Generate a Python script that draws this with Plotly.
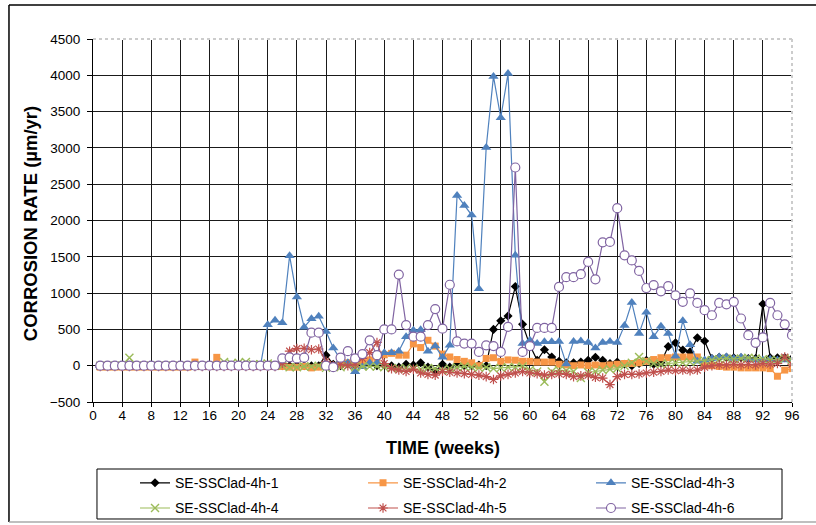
import plotly.graph_objects as go

weeks = list(range(1, 97))

names = ["SE-SSClad-4h-1", "SE-SSClad-4h-2", "SE-SSClad-4h-3",
         "SE-SSClad-4h-4", "SE-SSClad-4h-5", "SE-SSClad-4h-6"]

s1 = ([0] * 31 +
      [145, 20, 0, 30, 10, 20, 30, 0, 10] +
      [0, -20, 20, 10, 40, -20, -80, 20, -20, 20] +
      [0, 0, 10, 0, 500, 620, 685, 1090, 570, 280] +
      [75, 220, 120, 60, 40, 40, 50, 75, 115, 75] +
      [30, 50, 20, 0, 30, 75, 20, 40, 265, 315] +
      [215, 190, 385, 340, 100, 115, 115, 110, 110, 100] +
      [100, 850, 110, 110, 110, 100])

s2 = ([-20] * 10 +
      [-20, -20, -20, 50, -10, -10, 115, -10, -10, -10] +
      [-10, -10, -10, -10, -10, -10, -20, -20, -10, -30] +
      [-20, 0, -20, 20, 40, 30, 60, 80, 100, 150] +
      [170, 145, 145, 300, 250, 350, 270, 160, 120, 85] +
      [60, 40, 0, 100, 110, 60, 80, 75, 60, 60] +
      [50, 50, 50, 20, 10, 0, 10, 0, 10, 0] +
      [10, 20, 30, 30, 40, 60, 85, 110, 110, 120] +
      [120, 120, 120, 0, 0, -10, -20, -20, -30, -30] +
      [-30, -30, -40, -145, -60, -40])

s3 = ([0] * 23 +
      [565, 625, 590, 1515, 945, 530, 645] +
      [680, 470, 245, 80, 40, -85, -15, 40, 40, 180] +
      [180, 200, 400, 490, 495, 200, 270, 115, 280, 2345] +
      [2205, 2075, 1060, 3005, 3985, 3415, 4025, 1520, 305, 350] +
      [305, 330, 330, 335, 25, 335, 340, 320, 245, 320] +
      [335, 320, 555, 870, 445, 735, 400, 545, 445, 130] +
      [620, 290, 60, 80, 100, 120, 120, 100, 115, 90] +
      [80, 80, 90, 80, 80, 80])

s4 = ([0, 0, 0, 0, 110, 0, 0, 0, 0, 0] +
      [0, 0, 0, 0, 0, 0, 0, 50, 30, 40] +
      [50, 20, 20, 30, 10, 0, -20, -20, -10, -10] +
      [0, -30, 0, -20, 0, -20, -10, -10, -10, -20] +
      [-30, -40, -30, -40, -50, -30, -40, -60, -40, -20] +
      [-10, -20, -30, -20, -40, -30, -20, -20, -10, -60] +
      [-80, -220, -80, -60, -70, -80, -170, -90, -80, -60] +
      [-50, -40, 0, 40, 120, 60, 30, 20, 30, 40] +
      [40, 50, 60, 70, 80, 90, 100, 90, 100, 110] +
      [100, 90, 80, 80, 100, 80])

s5 = ([-10] * 20 +
      [-10, -10, -10, -10, -10, 30, 200, 235, 240, 220] +
      [230, 60, 0, 20, 0, 20, 100, 180, 320, 30] +
      [-40, -60, -80, -50, -100, -120, -130, -80, -90, -100] +
      [-110, -120, -130, -150, -190, -140, -120, -100, -80, -100] +
      [-110, -130, -120, -110, -120, -150, -140, -130, -160, -170] +
      [-260, -150, -120, -120, -115, -100, -90, -80, -60, -70] +
      [-60, -70, -60, -20, 0, 10, 10, 20, 10, 20] +
      [10, 30, 20, 30, 120, 20])

s6 = ([0] * 20 +
      [0, 0, 0, 0, 0, 100, 115, 100, 110, 455] +
      [455, 0, -20, 110, 200, 100, 160, 350, 145, 500] +
      [500, 1255, 560, 400, 400, 560, 780, 510, 1115, 335] +
      [305, 305, 190, 280, 270, 190, 535, 2730, 190, 270] +
      [520, 520, 520, 1085, 1220, 1220, 1260, 1430, 1190, 1700] +
      [1705, 2170, 1520, 1450, 1305, 1070, 1110, 1025, 1095, 970] +
      [880, 995, 865, 765, 695, 865, 845, 880, 650, 420] +
      [315, 390, 865, 695, 570, 420])

x_ticks = list(range(0, 97, 4))
y_ticks = list(range(-500, 4501, 500))

FONT = "Liberation Sans, Arial, sans-serif"

styles = [
    dict(color="#000000", line="#000000", symbol="diamond", size=7, lw=0, fill="#000000", legend="legend"),
    dict(color="#F79646", line="#F79646", symbol="square", size=7, lw=0, fill="#F79646", legend="legend2"),
    dict(color="#4F81BD", line="#4F81BD", symbol="triangle-up", size=9, lw=0, fill="#4F81BD", legend="legend3"),
    dict(color="#9BBB59", line="#9BBB59", symbol="x-thin", size=8, lw=1.4, fill="#9BBB59", legend="legend"),
    dict(color="#C0504D", line="#C0504D", symbol="asterisk", size=8, lw=1.2, fill="#C0504D", legend="legend2"),
    dict(color="#8064A2", line="#8064A2", symbol="circle", size=9, lw=1.2, fill="#FFFFFF", legend="legend3"),
]
series = [s1, s2, s3, s4, s5, s6]

fig = go.Figure()
for i, (name, ys, st) in enumerate(zip(names, series, styles)):
    fig.add_trace(go.Scatter(
        x=weeks, y=ys, name=name, mode="lines+markers",
        line=dict(color=st["line"], width=1.2),
        marker=dict(symbol=st["symbol"], size=st["size"], color=st["fill"],
                    line=dict(color=st["color"], width=st["lw"])),
        legend=st["legend"], legendgroup="g%d" % i,
    ))

leg_common = dict(orientation="v", xanchor="left", yanchor="top",
                  bgcolor="rgba(0,0,0,0)", borderwidth=0, tracegroupgap=4,
                  font=dict(family=FONT, size=14, color="#000"), itemwidth=30)
LEG_Y = -0.1796
fig.update_layout(
    width=816, height=525,
    margin=dict(l=93, r=24, t=39, b=123, autoexpand=False),
    paper_bgcolor="white", plot_bgcolor="white",
    font=dict(family=FONT, color="#000"),
    showlegend=True,
    legend=dict(x=0.0601, y=LEG_Y, **leg_common),
    legend2=dict(x=0.3863, y=LEG_Y, **leg_common),
    legend3=dict(x=0.7124, y=LEG_Y, **leg_common),
    xaxis=dict(range=[0, 96], tickmode="array", tickvals=x_ticks,
               ticktext=[str(v) for v in x_ticks],
               showgrid=True, gridcolor="#1a1a1a", gridwidth=1,
               zeroline=False, showline=True, linecolor="#000", linewidth=1,
               ticks="outside", ticklen=4, tickcolor="#000",
               ticklabelstandoff=-3,
               tickfont=dict(family=FONT, size=13.5, color="#000")),
    yaxis=dict(range=[-500, 4500], tickmode="array", tickvals=y_ticks,
               showgrid=True, gridcolor="#1a1a1a", gridwidth=1,
               zeroline=False, showline=True, linecolor="#000", linewidth=1,
               ticks="outside", ticklen=5, tickcolor="#000",
               ticklabelstandoff=4,
               tickfont=dict(family=FONT, size=13.5, color="#000")),
    annotations=[
        dict(text="<b>CORROSION RATE (µm/yr)</b>", xref="paper", yref="paper",
             x=-0.09, y=0.49, textangle=-90, showarrow=False,
             xanchor="center", yanchor="middle",
             font=dict(family=FONT, size=18.5, color="#000")),
        dict(text="<b>TIME (weeks)</b>", xref="paper", yref="paper",
             x=0.5, y=-0.127, showarrow=False, xanchor="center", yanchor="middle",
             font=dict(family=FONT, size=18, color="#000")),
    ],
    shapes=[
        # plot-area border (top/right) in light dotted grey
        dict(type="line", xref="paper", yref="paper", x0=0, x1=1, y0=1, y1=1,
             line=dict(color="white", width=2), layer="above"),
        dict(type="line", xref="paper", yref="paper", x0=0, x1=1, y0=1, y1=1,
             line=dict(color="#999", width=1, dash="dot"), layer="above"),
        dict(type="line", xref="paper", yref="paper", x0=1, x1=1, y0=0, y1=1,
             line=dict(color="white", width=2), layer="above"),
        dict(type="line", xref="paper", yref="paper", x0=1, x1=1, y0=0, y1=1,
             line=dict(color="#999", width=1, dash="dot"), layer="above"),
        # legend box
        dict(type="rect", xref="paper", yref="paper", x0=0.0057, x1=0.9857,
             y0=-0.3223, y1=-0.1846, line=dict(color="#000", width=1)),
        # chart outer frame
        dict(type="line", xref="paper", yref="paper", x0=-0.1202, x1=1.05,
             y0=1.0937, y1=1.0937, line=dict(color="#000", width=1.5)),
        dict(type="line", xref="paper", yref="paper", x0=-0.1202, x1=-0.1202,
             y0=-0.3306, y1=1.0937, line=dict(color="#000", width=1.5)),
        dict(type="line", xref="paper", yref="paper", x0=-0.1202, x1=1.05,
             y0=-0.3306, y1=-0.3306, line=dict(color="#aaa", width=1.5)),
    ],
)

fig.write_html(
    "out.html",
    config={"displayModeBar": False},
    post_script="document.body.style.margin='0';document.body.style.overflow='hidden';",
)
